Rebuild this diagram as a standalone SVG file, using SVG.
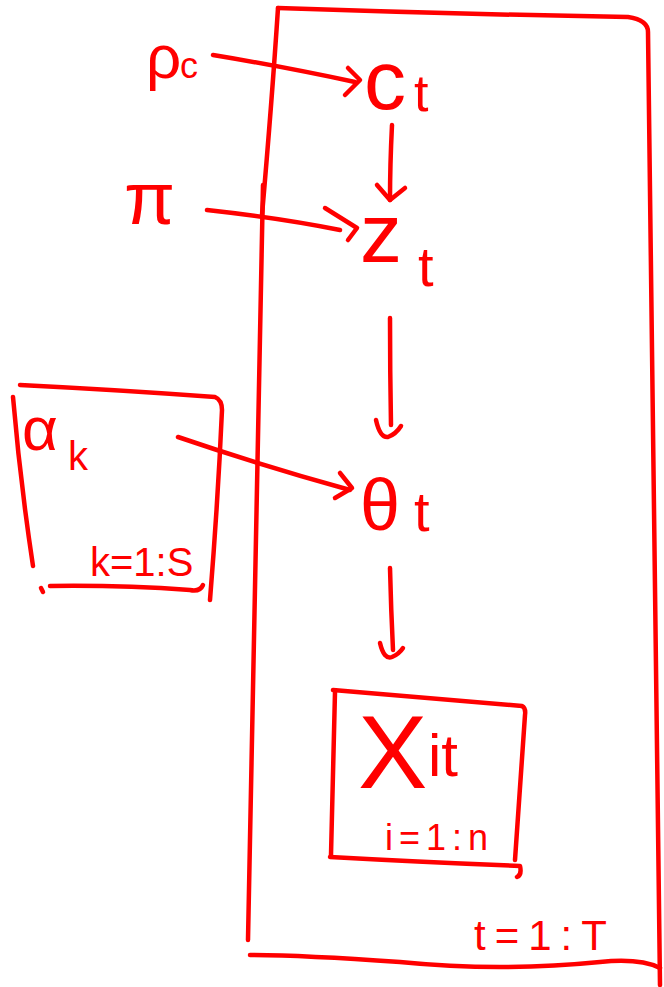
<svg xmlns="http://www.w3.org/2000/svg" width="664" height="987" viewBox="0 0 664 987">
<style>
.s{fill:none;stroke:#ff0000;stroke-width:4.5;stroke-linecap:round;stroke-linejoin:round}
.t{fill:#ff0000;font-family:"Liberation Sans","DejaVu Sans",sans-serif}
</style>
<rect width="664" height="987" fill="#ffffff"/>
<g id="plate_t">
<path class="s" d="M278,8 Q450,14 628,17 Q648,20 648,32 Q652,500 660,985"/>
<path class="s" d="M278,8 Q272,100 262,215"/>
<path class="s" d="M263,185 Q255,560 248,940"/>
<path class="s" d="M250,955 Q300,955 400,962 Q500,972 600,962 Q640,958 660,968"/>
<text class="t" x="474" y="950" font-size="42" letter-spacing="9">t=1:T</text>
</g>
<g id="plate_k">
<path class="s" d="M20,385 Q120,390 215,397 Q222,400 222,410 Q218,500 210,600"/>
<path class="s" d="M13,397 Q20,480 33,566"/>
<path class="s" d="M50,586 Q120,585 190,590 Q200,592 203,585"/>
<path class="s" d="M41,588 L43,592"/>
<text class="t" x="90" y="576" font-size="40">k=1:S</text>
</g>
<g id="plate_i">
<path class="s" d="M333,690 Q430,698 522,706 Q526,708 525,715 Q520,790 515,860"/>
<path class="s" d="M335,692 Q333,780 331,855"/>
<path class="s" d="M330,857 Q420,862 520,866 Q522,875 517,877"/>
<text class="t" x="385" y="850" font-size="36" letter-spacing="6">i=1:n</text>
</g>
<g id="node_rho">
<text class="t" x="146" y="78" font-size="62">ρ</text>
<text class="t" x="180" y="78" font-size="36">c</text>
</g>
<g id="node_pi">
<text class="t" x="124" y="224" font-size="74">π</text>
</g>
<g id="node_c">
<text class="t" x="364" y="109" font-size="84">c</text>
<text class="t" x="414" y="111" font-size="52">t</text>
</g>
<g id="node_z">
<text class="t" x="360" y="262" font-size="84">z</text>
<text class="t" x="418" y="286" font-size="56">t</text>
</g>
<g id="node_alpha">
<text class="t" x="22" y="450" font-size="62">α</text>
<text class="t" x="68" y="470" font-size="40">k</text>
</g>
<g id="node_theta">
<text class="t" x="360" y="530" font-size="72">θ</text>
<text class="t" x="414" y="531" font-size="56">t</text>
</g>
<g id="node_x">
<text class="t" x="358" y="788" font-size="104">X</text>
<text class="t" x="428" y="776" font-size="60">it</text>
</g>
<g id="connectors">
<path class="s" d="M213,55 Q280,66 355,82"/>
<path class="s" d="M348,68 L360,80 L345,95"/>
<path class="s" d="M392,125 Q390,165 390,200"/>
<path class="s" d="M377,185 L390,200 L405,188"/>
<path class="s" d="M207,210 Q280,218 340,230"/>
<path class="s" d="M325,208 L357,228 L348,240"/>
<path class="s" d="M390,318 Q390,370 391,425"/>
<path class="s" d="M376,420 Q380,438 388,437 Q396,434 401,426"/>
<path class="s" d="M178,437 Q260,465 350,490"/>
<path class="s" d="M340,473 L352,488 L335,498"/>
<path class="s" d="M390,568 Q391,610 393,650"/>
<path class="s" d="M380,643 Q384,660 392,657 Q399,654 403,648"/>
</g>
</svg>
